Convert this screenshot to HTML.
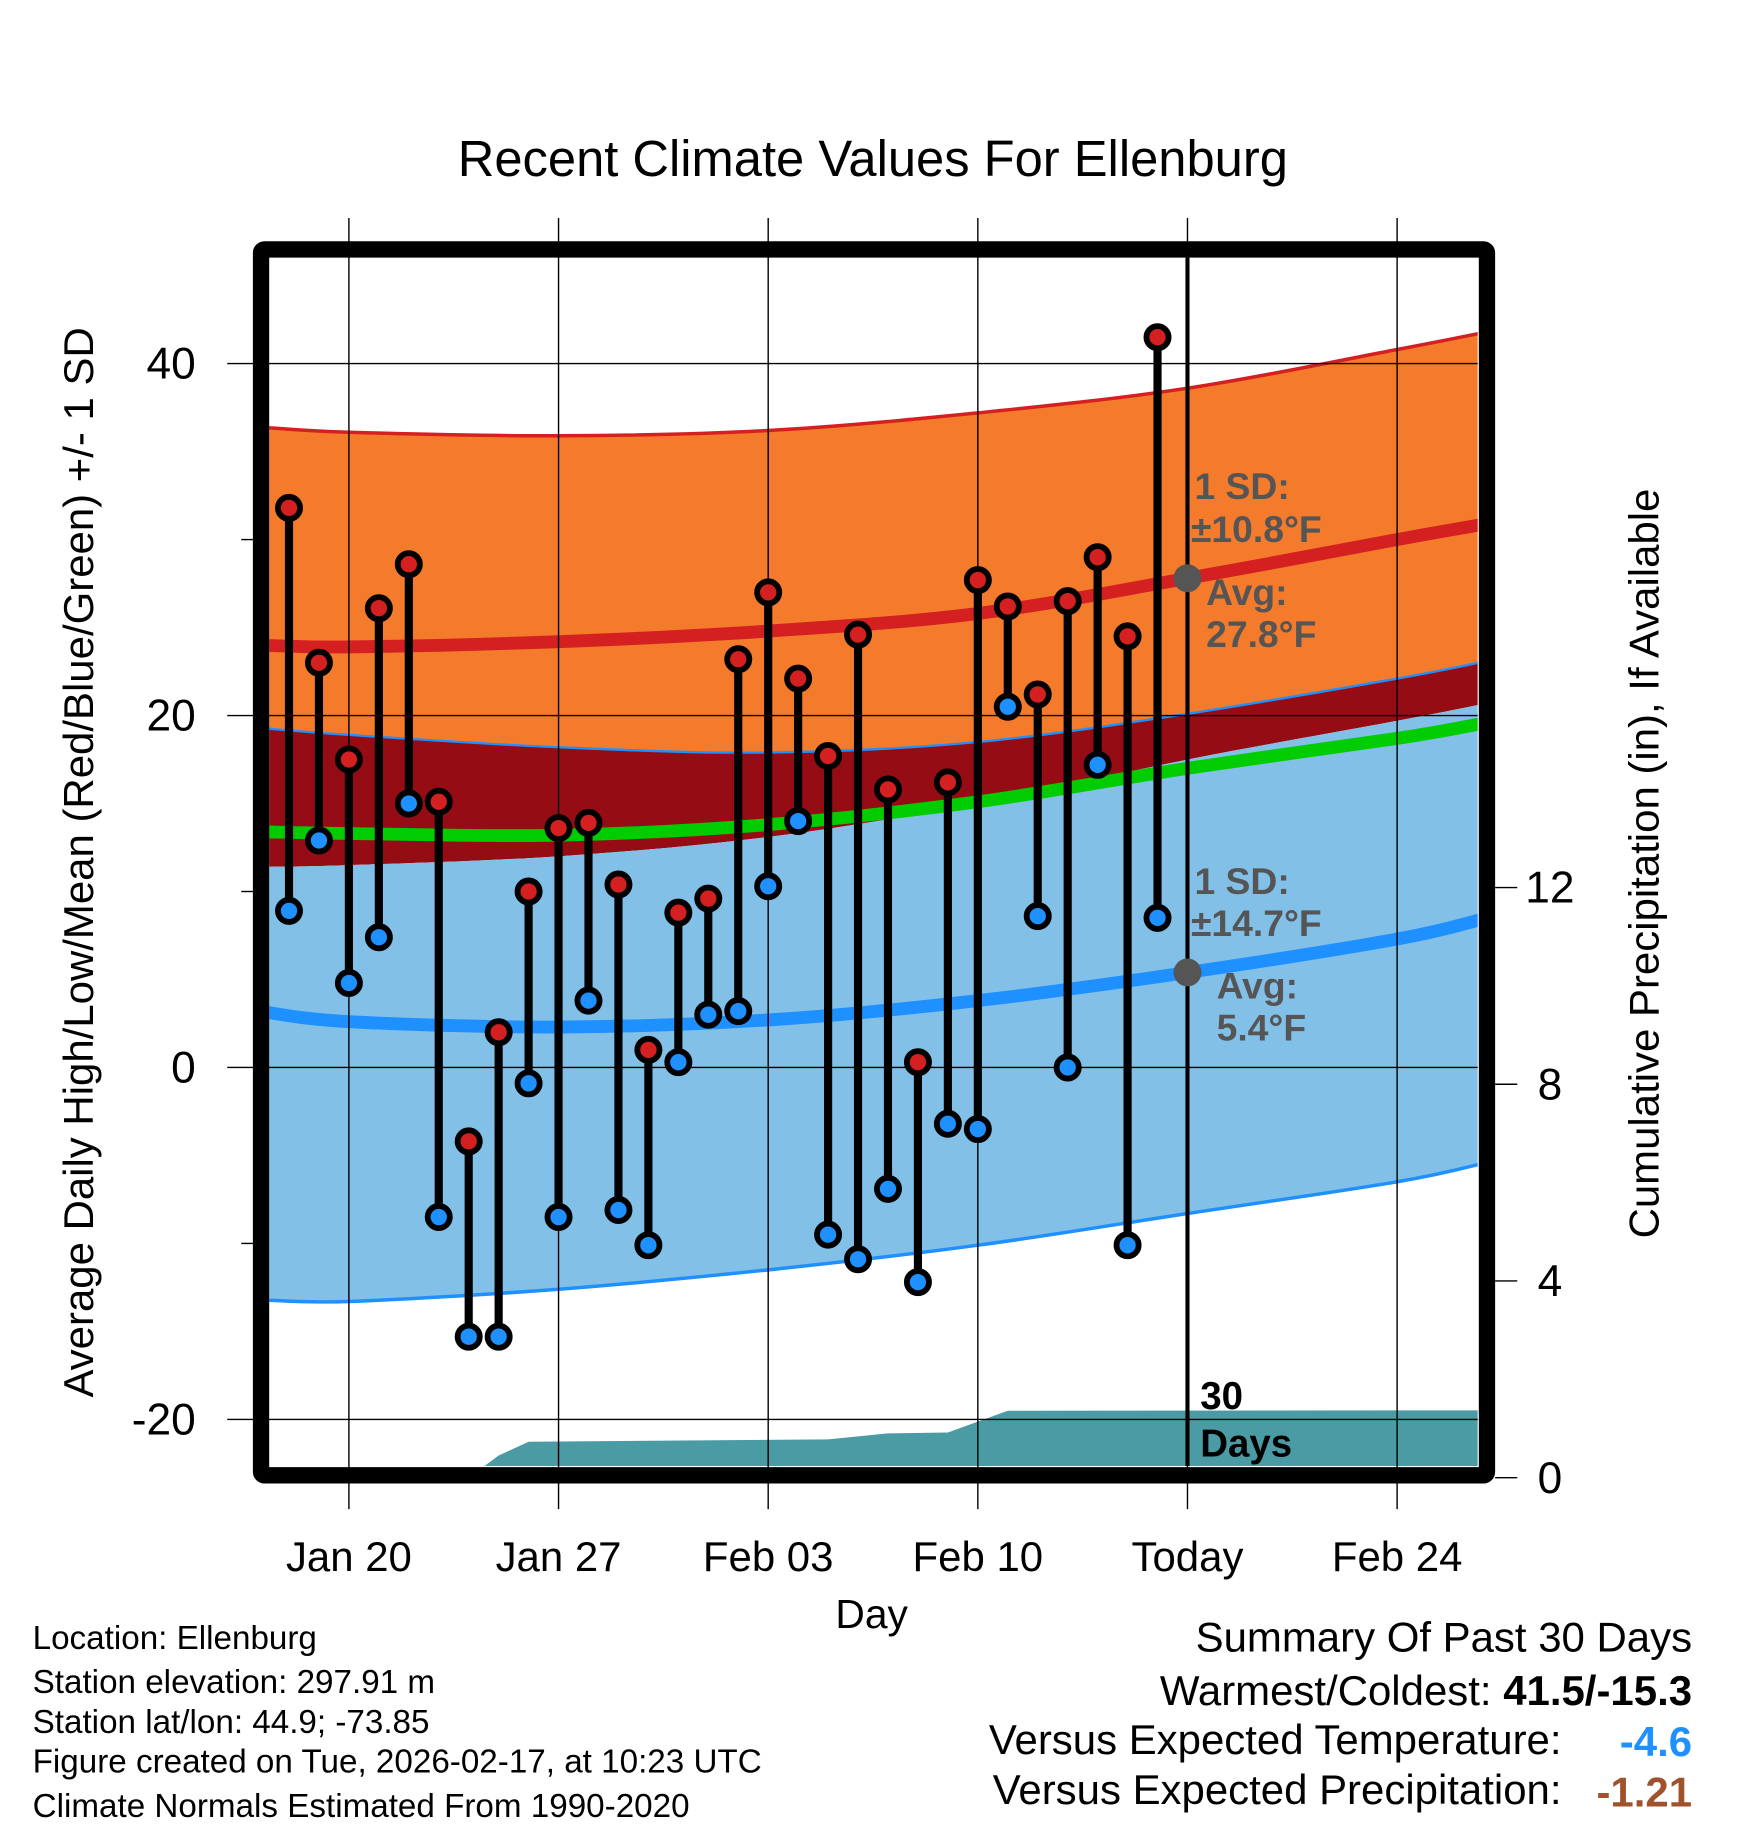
<!DOCTYPE html>
<html><head><meta charset="utf-8"><style>html,body{margin:0;padding:0;background:#fff}svg{display:block}text{font-family:"Liberation Sans",sans-serif}</style></head>
<body>
<svg id="chart" width="1748" height="1828" viewBox="0 0 1500 1568.6" xmlns="http://www.w3.org/2000/svg"></svg>
<script>
// ---- data ----
const dayLabels = ["Jan 20","Jan 27","Feb 03","Feb 10","Today","Feb 24"];
const dayLabelOffsets = [3,10,17,24,31,38]; // days after Jan 17
const highs = [31.8,23.0,17.5,26.1,28.6,15.1,-4.2,2.0,10.0,13.6,13.9,10.4,1.0,8.8,9.6,23.2,27.0,22.1,17.7,24.6,15.8,0.3,16.2,27.7,26.2,21.2,26.5,29.0,24.5,41.5];
const lows  = [8.9,12.9,4.8,7.4,15.0,-8.5,-15.3,-15.3,-0.9,-8.5,3.8,-8.1,-10.1,0.3,3.0,3.2,10.3,14.0,-9.5,-10.9,-6.9,-12.2,-3.2,-3.5,20.5,8.6,0,17.2,-10.1,8.5];
const normDays = [0,3,10,17,24,31,38,41];
const hiUpper = [36.4,36.1,35.9,36.2,37.2,38.6,40.8,41.8];
const hiMean  = [24.0,23.9,24.2,24.8,25.8,27.8,30.0,30.9];
const hiLower = [11.4,11.5,12.0,13.1,15.0,17.5,19.7,20.7];
const avgMean = [13.4,13.3,13.2,13.8,15.1,17.0,18.7,19.6];
const loUpper = [19.3,18.9,18.2,17.9,18.5,20.1,22.1,23.1];
const loMean  = [3.2,2.6,2.3,2.7,3.8,5.4,7.3,8.5];
const loLower = [-13.2,-13.3,-12.6,-11.5,-10.1,-8.3,-6.5,-5.4];
const precipDays = [0,7,8,9,19,21,23,25,41];
const precipVals = [0,0,0.45,0.73,0.78,0.90,0.92,1.36,1.37];
const yTicks = [40,20,0,-20];
const pTicks = [0,4,8,12];

// ---- axes ----
const X0=222.3, DX=25.7, L=231, R=1268, T=221, B=1258;
const xs = d => X0 + d*DX;
const ys = v => 916 - 15.1*v;
const yp = v => 1268 - 42.2*v;
const NS="http://www.w3.org/2000/svg";
const svg=document.getElementById('chart');
function mk(tag,attrs,parent){const e=document.createElementNS(NS,tag);for(const k in attrs)e.setAttribute(k,attrs[k]);(parent||svg).appendChild(e);return e;}
function txt(s,attrs,parent){const e=mk('text',attrs,parent);e.textContent=s;return e;}
function pts(arr){return normDays.map((d,i)=>[xs(d),ys(arr[i])]);}
// catmull-rom smoothed path segment
function smooth(p,start){
  let s=start?`M${p[0][0].toFixed(1)},${p[0][1].toFixed(1)}`:`L${p[0][0].toFixed(1)},${p[0][1].toFixed(1)}`;
  for(let i=0;i<p.length-1;i++){
    const p0=p[Math.max(i-1,0)],p1=p[i],p2=p[i+1],p3=p[Math.min(i+2,p.length-1)];
    const c1=[p1[0]+(p2[0]-p0[0])/6,p1[1]+(p2[1]-p0[1])/6];
    const c2=[p2[0]-(p3[0]-p1[0])/6,p2[1]-(p3[1]-p1[1])/6];
    s+=`C${c1[0].toFixed(1)},${c1[1].toFixed(1)} ${c2[0].toFixed(1)},${c2[1].toFixed(1)} ${p2[0].toFixed(1)},${p2[1].toFixed(1)}`;
  }
  return s;
}
function lineD(arr){return smooth(pts(arr),true);}
function bandD(up,lo){return smooth(pts(up),true)+smooth(pts(lo).reverse(),false)+'Z';}

const defs=mk('defs',{});const cp=mk('clipPath',{id:'clip'},defs);mk('rect',{x:L,y:T,width:R-L,height:B-T},cp);
const g=mk('g',{'clip-path':'url(#clip)'});

let e;
e=mk('path',{d:bandD(hiUpper,loUpper),fill:'#f47a2c'},g);

e=mk('path',{d:bandD(loUpper,hiLower),fill:'#960c14'},g);

e=mk('path',{d:bandD(hiLower,loLower),fill:'#82c0e8'},g);

e=mk('path',{d:lineD(hiUpper),fill:'none',stroke:'#d42020','stroke-width':3},g);

e=mk('path',{d:lineD(loUpper),fill:'none',stroke:'#1e90ff','stroke-width':2},g);

e=mk('path',{d:lineD(loLower),fill:'none',stroke:'#1e90ff','stroke-width':3},g);

e=mk('path',{d:lineD(hiMean),fill:'none',stroke:'#d42020','stroke-width':11},g);

e=mk('path',{d:lineD(avgMean),fill:'none',stroke:'#00cc00','stroke-width':11},g);

e=mk('path',{d:lineD(loMean),fill:'none',stroke:'#1e90ff','stroke-width':11},g);


// precip area
const pp=precipDays.map((d,i)=>`${xs(d).toFixed(1)},${yp(precipVals[i]).toFixed(1)}`);
pp.push(`${xs(41).toFixed(1)},${B+10}`);pp.push(`${xs(0).toFixed(1)},${B+10}`);
e=mk('polygon',{points:pp.join(' '),fill:'#4a9ba3'},g);


// grid
yTicks.forEach(v=>{
  e=mk('line',{x1:195,x2:R,y1:ys(v),y2:ys(v),stroke:'#000','stroke-width':1.2});
  
  e=txt(v,{x:168,y:ys(v)+13,'font-size':38,'text-anchor':'end'});
  
});
[30,10,-10].forEach(v=>{mk('line',{x1:207,x2:217,y1:ys(v),y2:ys(v),stroke:'#000','stroke-width':1.2});});
dayLabelOffsets.forEach((d,i)=>{
  e=mk('line',{x1:xs(d),x2:xs(d),y1:187,y2:1295,stroke:'#000','stroke-width':1.2});
  
  e=txt(dayLabels[i],{x:xs(d),y:1348,'font-size':36,'text-anchor':'middle'});
  
});
pTicks.forEach(v=>{
  mk('line',{x1:1283,x2:1302,y1:yp(v),y2:yp(v),stroke:'#000','stroke-width':1.2});
  e=txt(v,{x:1330,y:yp(v)+13,'font-size':38,'text-anchor':'middle'});
  
});

// today line
e=mk('line',{x1:xs(31),x2:xs(31),y1:T,y2:B,stroke:'#000','stroke-width':3.5});


// stems + dots
highs.forEach((h,i)=>{
  const x=xs(i+1);
  e=mk('line',{x1:x,x2:x,y1:ys(h),y2:ys(lows[i]),stroke:'#000','stroke-width':7});
  
});
highs.forEach((h,i)=>{
  const x=xs(i+1);
  e=mk('circle',{cx:x,cy:ys(h),r:9.5,fill:'#d42020',stroke:'#000','stroke-width':5});
  
  e=mk('circle',{cx:x,cy:ys(lows[i]),r:9.5,fill:'#1e90ff',stroke:'#000','stroke-width':5});
  
});

// annotations
const ga={fill:'#555','font-size':32,'font-weight':'bold'};
const hiToday=hiMean[5], loToday=loMean[5];
e=mk('circle',{cx:xs(31),cy:ys(hiToday),r:12,fill:'#555'});

e=mk('circle',{cx:xs(31),cy:ys(loToday),r:12,fill:'#555'});

[["1 SD:",1025,428],["±10.8°F",1022,465],["Avg:",1035,519],["27.8°F",1035,555],["1 SD:",1025,767],["±14.7°F",1022,803],["Avg:",1044,857],["5.4°F",1044,893]].forEach(a=>{
  e=txt(a[0],Object.assign({x:a[1],y:a[2]},ga));
  
});
e=txt("30",{x:1030,y:1209,'font-size':33,'font-weight':'bold'});

e=txt("Days",{x:1030,y:1250,'font-size':33,'font-weight':'bold'});


// frame
e=mk('rect',{x:224,y:214,width:1052,height:1052,fill:'none',stroke:'#000','stroke-width':14,rx:3});


// titles
e=txt("Recent Climate Values For Ellenburg",{x:749,y:151,'font-size':43.5,'text-anchor':'middle'});

e=txt("Average Daily High/Low/Mean (Red/Blue/Green) +/- 1 SD",{x:0,y:0,'font-size':36,'text-anchor':'middle',transform:'translate(80,740) rotate(-90)'});

e=txt("Cumulative Precipitation (in), If Available",{x:0,y:0,'font-size':36,'text-anchor':'middle',transform:'translate(1423,741) rotate(-90)'});

e=txt("Day",{x:748,y:1397,'font-size':35,'text-anchor':'middle'});


[["Location: Ellenburg",1415],["Station elevation: 297.91 m",1453],["Station lat/lon: 44.9; -73.85",1487],["Figure created on Tue, 2026-02-17, at 10:23 UTC",1521],["Climate Normals Estimated From 1990-2020",1559]].forEach(a=>{
  e=txt(a[0],{x:28,y:a[1],'font-size':28.5});
  
});
e=txt("Summary Of Past 30 Days",{x:1452,y:1417,'font-size':36,'text-anchor':'end'});

e=mk('text',{x:1452,y:1463,'font-size':36,'text-anchor':'end'});
e.innerHTML='Warmest/Coldest: <tspan font-weight="bold">41.5/-15.3</tspan>';

e=txt("Versus Expected Temperature:",{x:1340,y:1505,'font-size':36,'text-anchor':'end'});

e=txt("-4.6",{x:1452,y:1507,'font-size':36,'font-weight':'bold','text-anchor':'end',fill:'#1e90ff'});

e=txt("Versus Expected Precipitation:",{x:1340,y:1548,'font-size':36,'text-anchor':'end'});

e=txt("-1.21",{x:1452,y:1550,'font-size':36,'font-weight':'bold','text-anchor':'end',fill:'#a0522d'});

</script>
</body></html>
